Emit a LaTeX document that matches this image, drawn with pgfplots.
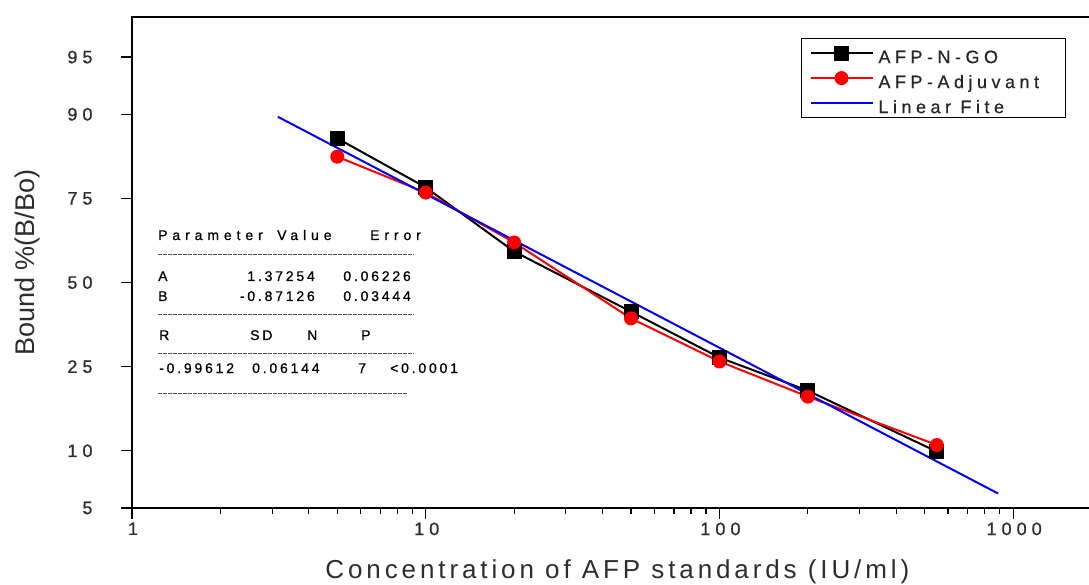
\documentclass[border=0pt]{standalone}
\usepackage{fontspec}
\setmainfont{Liberation Sans}
\newfontfamily\tickfont[LetterSpace=28, FakeBold=0.8]{Liberation Sans}
\newfontfamily\legfont[LetterSpace=25, FakeBold=0.5]{Liberation Sans}
\newfontfamily\notefont[LetterSpace=20, FakeBold=0.8]{Liberation Sans}
\newfontfamily\notewide[LetterSpace=35, FakeBold=0.8]{Liberation Sans}
\newfontfamily\xlabfont[LetterSpace=15]{Liberation Sans}
\usepackage{pgfplots}
\usepackage{pgfplotstable}
\pgfplotsset{compat=1.18}

\definecolor{tickgray}{RGB}{45,45,45}

% bound fractions in percent, plotted on a logit scale
\pgfplotstableread{
x y
5 86.8
10 77.6
20 60.0
50 40.6
100 27.3
200 19.6
550 9.9
}\goTable
\pgfplotstableread{
x y
5 83.8
10 76.4
20 62.8
50 38.5
100 26.3
200 18.4
550 10.7
}\adjTable
\pgfplotstableread{
x y
3.14 89.7
889 5.98
}\fitTable

\begin{document}
\begin{tikzpicture}[x=1pt,y=1pt]
\path[use as bounding box] (-132,-76) rectangle (957,508);
\begin{axis}[
  at={(0,0)}, anchor=south west,
  scale only axis, width=963pt, height=491pt,
  xmode=log, xmin=1, xmax=1900,
  ymin=-2.9444, ymax=3.468,
  xtick={1,10,100,1000}, xticklabels={1,10,100,1000},
  minor xtick={2,3,4,5,6,7,8,9,20,30,40,50,60,70,80,90,200,300,400,500,600,700,800,900},
  ytick={-2.9444,-2.1972,-1.0986,0,1.0986,2.1972,2.9444},
  yticklabels={5,10,25,50,75,90,95},
  tick pos=left, tick align=outside,
  major tick length=11pt, minor tick length=6pt,
  axis line style={line width=1.2pt},
  every tick/.style={black, line width=1.2pt},
  xticklabel style={font=\tickfont\fontsize{18}{20}\selectfont, text=tickgray, xshift=1pt},
  yticklabel style={font=\tickfont\fontsize{18}{20}\selectfont, text=tickgray, xshift=-25pt},
  xlabel={Concentration of AFP standards (IU/ml)},
  ylabel={Bound \%(B/Bo)},
  xlabel style={font=\xlabfont\fontsize{26}{28}\selectfont, text=tickgray,
    at={(axis description cs:0.504,-0.13)}, anchor=center},
  ylabel style={font=\fontsize{27}{28}\selectfont, text=tickgray,
    at={(axis description cs:-0.109,0.5)}, anchor=center},
  legend cell align=left,
  legend style={at={(rel axis cs:0.6947,0.957)}, anchor=north west,
    draw=black, line width=1pt, font=\legfont\fontsize{18}{20}\selectfont,
    text=black!85, row sep=0pt, inner xsep=8pt,
    nodes={inner ysep=2.5pt, text height=20pt, text depth=0pt},
    /tikz/every odd column/.append style={column sep=3pt}},
  legend image code/.code={
    \draw[mark repeat=2,mark phase=2,#1] plot coordinates {(0pt,0pt) (31pt,0pt) (62pt,0pt)};
  },
]
\addplot[black, line width=2pt, mark=square*, mark size=6.5pt]
  table[x=x, y expr={ln(\thisrow{y}/(100-\thisrow{y}))}] {\goTable};
\addlegendentry{AFP-N-GO}
\addplot[red, line width=2pt, mark=*, mark size=6pt]
  table[x=x, y expr={ln(\thisrow{y}/(100-\thisrow{y}))}] {\adjTable};
\addlegendentry{AFP-Adjuvant\hspace*{16pt}}
\addplot[blue, line width=2pt]
  table[x=x, y expr={ln(\thisrow{y}/(100-\thisrow{y}))}] {\fitTable};
\addlegendentry{Linear Fite}
\end{axis}

% fit report
\begin{scope}[every node/.style={font=\notefont\fontsize{14}{16}\selectfont, inner sep=0pt}]
\node[anchor=base west, font=\notewide\fontsize{14}{16}\selectfont] at (26,268) {Parameter};
\node[anchor=base west, font=\notewide\fontsize{14}{16}\selectfont] at (145,268) {Value};
\node[anchor=base west, font=\notewide\fontsize{14}{16}\selectfont] at (238,268) {Error};
\node[anchor=base west] at (26,227) {A};
\node[anchor=base east] at (183,227) {1.37254};
\node[anchor=base east] at (279,227) {0.06226};
\node[anchor=base west] at (26,207) {B};
\node[anchor=base east] at (183,207) {-0.87126};
\node[anchor=base east] at (279,207) {0.03444};
\node[anchor=base west] at (27,168) {R};
\node[anchor=base west] at (118,168) {SD};
\node[anchor=base west] at (175,168) {N};
\node[anchor=base west] at (229,168) {P};
\node[anchor=base west] at (27,135) {-0.99612};
\node[anchor=base west] at (120,135) {0.06144};
\node[anchor=base west] at (226,135) {7};
\node[anchor=base west] at (258,135) {<0.0001};
\end{scope}
\begin{scope}[black!70, line width=0.8pt, dash pattern=on 3.5pt off 1.5pt]
\draw (26,254) -- (282,254);
\draw (26,194) -- (282,194);
\draw (26,155) -- (282,155);
\draw (26,115) -- (276,115);
\end{scope}
\end{tikzpicture}
\end{document}
